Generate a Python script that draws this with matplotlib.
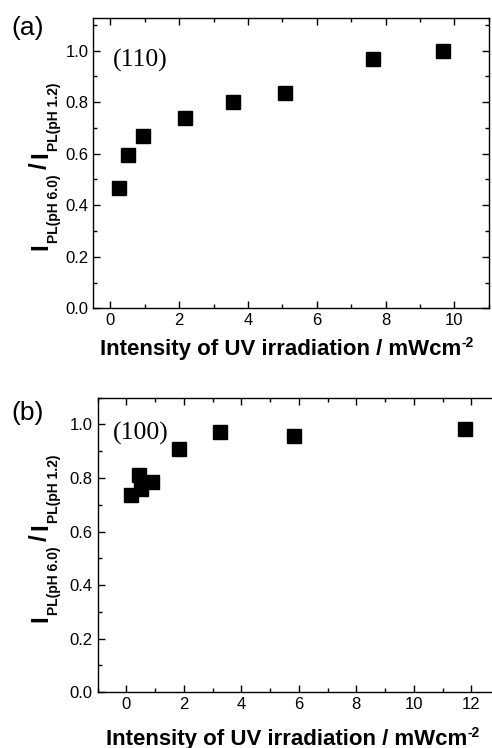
import matplotlib
matplotlib.use('Agg')
import numpy as np
import matplotlib.pyplot as plt
from matplotlib.ticker import MultipleLocator

plt.rcParams['font.family'] = ['Liberation Sans', 'DejaVu Sans']

W, H = 492, 748

# (110) panel data
x_110 = [0.24, 0.51, 0.94, 2.17, 3.56, 5.08, 7.63, 9.67]
y_110 = [0.468, 0.595, 0.670, 0.738, 0.800, 0.837, 0.967, 1.000]

# (100) panel data
x_100 = [0.17, 0.44, 0.52, 0.89, 1.82, 3.27, 5.82, 11.78]
y_100 = [0.735, 0.810, 0.759, 0.784, 0.907, 0.970, 0.955, 0.984]

y_ticks = [0.0, 0.2, 0.4, 0.6, 0.8, 1.0]

# label pieces: (text, fontsize, baseline shift in px, gap after in px)
ylab_runs = [('I', 17.5, 0, 0), ('PL(pH 6.0)', 10, -11, 5),
             ('/', 17.5, 0, 5), ('I', 17.5, 0, 0), ('PL(pH 1.2)', 10, -11, 0)]
xlab_runs = [('Intensity of UV irradiation / mWcm', 16, 0, 0),
             ('-2', 10, 8, 0)]

fig = plt.figure(figsize=(W / 100, H / 100), dpi=100)
ax_a = fig.add_axes([0.1896, 0.5878, 0.804, 0.3877])
ax_b = fig.add_axes([0.1986, 0.0745, 0.8177, 0.3939])
renderer = fig.canvas.get_renderer()


def draw_runs(runs, cx, cy, rot):
    """lay text pieces of mixed size along a baseline centred at (cx, cy) px from top-left"""
    widths = []
    for s, size, _, _ in runs:
        t = fig.text(0, 0, s, fontsize=size, fontweight='bold')
        widths.append(t.get_window_extent(renderer).width)
        t.remove()
    total = sum(widths) + sum(r[3] for r in runs)
    a = np.deg2rad(rot)
    d = np.array([np.cos(a), np.sin(a)])
    n = np.array([-np.sin(a), np.cos(a)])
    start = np.array([cx, H - cy]) - total / 2 * d
    acc = 0
    for (s, size, shift, gap), w in zip(runs, widths):
        p = start + acc * d + shift * n
        fig.text(p[0] / W, p[1] / H, s, fontsize=size, fontweight='bold',
                 rotation=rot, rotation_mode='anchor', ha='left', va='baseline')
        acc += w + gap


def style(ax, xlim, ylim, xmaj):
    ax.set_xlim(*xlim)
    ax.set_ylim(*ylim)
    ax.xaxis.set_major_locator(MultipleLocator(xmaj))
    ax.xaxis.set_minor_locator(MultipleLocator(xmaj / 2))
    ax.set_yticks(y_ticks)
    ax.yaxis.set_minor_locator(MultipleLocator(0.1))
    ax.tick_params(which='both', direction='in', top=True, right=True,
                   labelsize=12, width=1)
    ax.tick_params(which='major', length=5)
    ax.tick_params(which='minor', length=3)
    for s in ax.spines.values():
        s.set_linewidth(1.0)


ax_a.plot(x_110, y_110, 's', color='black', markersize=9.5)
style(ax_a, (-0.5, 11), (0, 1.125), 2)
ax_a.text(0.118, 0.856, '(110)', transform=ax_a.transAxes, ha='center',
          va='center', fontsize=18.5, family='Liberation Serif')

ax_b.plot(x_100, y_100, 's', color='black', markersize=9.5)
style(ax_b, (-1, 13), (0, 1.1), 2)
ax_b.text(0.108, 0.879, '(100)', transform=ax_b.transAxes, ha='center',
          va='center', fontsize=18.5, family='Liberation Serif')

draw_runs(ylab_runs, 47, 166, 90)
draw_runs(ylab_runs, 47, 538, 90)
draw_runs(xlab_runs, 287, 355, 0)
draw_runs(xlab_runs, 293, 745, 0)

fig.text(28 / W, 1 - 28 / H, '(a)', ha='center', va='center', fontsize=19)
fig.text(28 / W, 1 - 413 / H, '(b)', ha='center', va='center', fontsize=19)

fig.savefig('out.png', dpi=100)
